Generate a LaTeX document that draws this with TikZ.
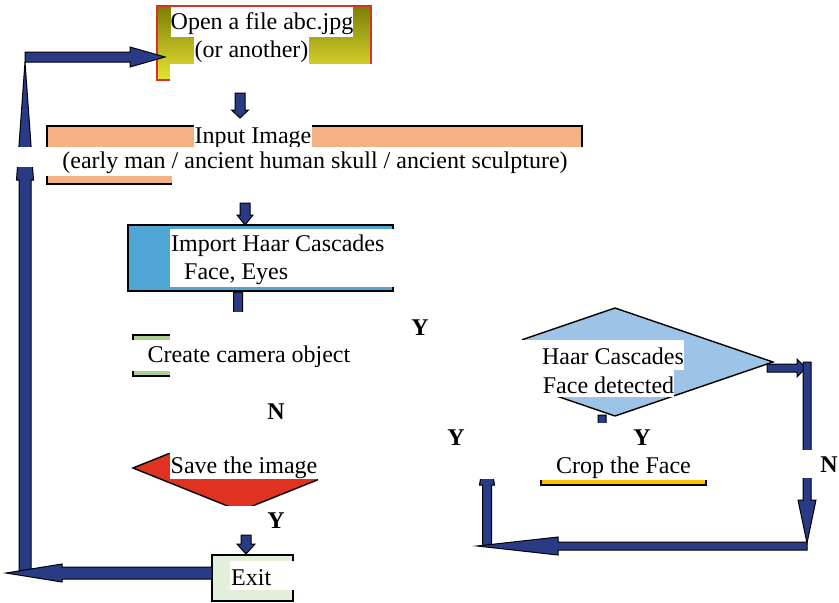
\documentclass[tikz,border=0pt]{standalone}
\usepackage{fontspec}
\setmainfont{Liberation Serif}
\usetikzlibrary{calc}

\definecolor{arrownavy}{RGB}{42,59,133}
\definecolor{openred}{RGB}{210,50,40}
\definecolor{olivetop}{RGB}{125,125,5}
\definecolor{olivebot}{RGB}{232,228,52}
\definecolor{inputsalmon}{RGB}{244,177,131}
\definecolor{importblue}{RGB}{79,166,212}
\definecolor{camgreen}{RGB}{169,208,142}
\definecolor{savered}{RGB}{224,50,32}
\definecolor{detectblue}{RGB}{157,195,230}
\definecolor{cropgold}{RGB}{255,192,0}
\definecolor{exitgreen}{RGB}{226,239,218}

\newcommand{\flowfont}{\fontsize{24}{28}\selectfont}
% block arrow: from, to, half shaft, head length, half head
\newcommand{\flowarrow}[5]{%
  \coordinate (fa-base) at ($(#2)!#4!(#1)$);
  \filldraw[blockarrow] ($(#1)!#3!90:(#2)$) -- ($(fa-base)!#3!90:(#2)$)
    -- ($(fa-base)!#5!90:(#2)$) -- (#2) -- ($(fa-base)!#5!-90:(#2)$)
    -- ($(fa-base)!#3!-90:(#2)$) -- ($(#1)!#3!-90:(#2)$) -- cycle;
}

\tikzset{
  box/.style={draw=black, line width=1.8pt, inner sep=0pt},
  decision/.style={draw=black, line width=1.4pt},
  blockarrow/.style={fill=arrownavy, draw=black, line width=1pt, line join=miter},
  plaintxt/.style={fill=white, inner sep=0pt, font=\flowfont},
  txt/.style={plaintxt, text height=20pt},
  yn/.style={inner sep=0pt, font=\flowfont\bfseries},
  mask/.style={fill=white}
}

\begin{document}
\begin{tikzpicture}[x=1pt, y=-1pt]
  \useasboundingbox (0,0) rectangle (839,603);

  % boxes
  \node[box, draw=openred, line width=1.5pt, top color=olivetop, bottom color=olivebot,
        minimum width=214pt, minimum height=74pt] (open) at (264,43) {};
  \node[box, fill=inputsalmon, minimum width=535pt, minimum height=58pt] (input) at (314.5,155) {};
  \node[box, fill=importblue, minimum width=265pt, minimum height=66pt] (import) at (260.5,258) {};
  \node[box, fill=camgreen, minimum width=247pt, minimum height=41pt] (camera) at (256.5,355.5) {};
  \node[box, fill=cropgold, minimum width=165pt, minimum height=40pt] (crop) at (623.5,465) {};
  \node[box, fill=exitgreen, minimum width=81pt, minimum height=46pt] (exit) at (252.5,578) {};

  % decisions
  \coordinate (save-w) at (133,468);
  \coordinate (save-n) at (240,425);
  \coordinate (save-e) at (347,468);
  \coordinate (save-s) at (240,511);
  \filldraw[decision, fill=savered] (save-w) -- (save-n) -- (save-e) -- (save-s) -- cycle;
  \coordinate (detect-w) at (457,362);
  \coordinate (detect-n) at (615,308);
  \coordinate (detect-e) at (773,362);
  \coordinate (detect-s) at (615,416);
  \filldraw[decision, fill=detectblue] (detect-w) -- (detect-n) -- (detect-e) -- (detect-s) -- cycle;

  % arrow ends
  \coordinate (openout) at (240,93);
  \coordinate (inputin) at (240,118);
  \coordinate (inputout) at (245,203);
  \coordinate (importin) at (245,225);
  \coordinate (importout) at (238,292);
  \coordinate (camerain) at (238,335);
  \coordinate (saveout) at (246,535);
  \coordinate (exitin) at (246,554);
  \coordinate (exitout) at (212,573);
  \coordinate (backleft) at (6,573);
  \coordinate (upstart) at (25,573);
  \coordinate (uptop) at (25,62);
  \coordinate (topstart) at (25,57);
  \coordinate (openin) at (165,57);
  \coordinate (detectout) at (767,368);
  \coordinate (rightin) at (806,368);
  \coordinate (rightstart) at (807,362);
  \coordinate (rightend) at (807,543);
  \coordinate (bottomstart) at (807,546);
  \coordinate (bottomend) at (477,546);
  \coordinate (backstart) at (487,546);
  \coordinate (backend) at (487,440);
  \coordinate (detectdown) at (602,415);
  \coordinate (cropin) at (602,450);

  \flowarrow{openout}{inputin}{5pt}{8pt}{8.5pt}
  \flowarrow{inputout}{importin}{5pt}{10pt}{8pt}
  \flowarrow{importout}{camerain}{4.5pt}{10pt}{8pt}
  \flowarrow{saveout}{exitin}{5pt}{10pt}{9pt}
  \flowarrow{upstart}{uptop}{6pt}{118pt}{8.5pt}
  \flowarrow{exitout}{backleft}{6pt}{56pt}{9pt}
  \flowarrow{topstart}{openin}{5pt}{35pt}{10pt}
  \flowarrow{detectout}{rightin}{4pt}{9pt}{9pt}
  \flowarrow{rightstart}{rightend}{4pt}{43pt}{9pt}
  \flowarrow{backstart}{backend}{4.5pt}{45pt}{7.5pt}
  \flowarrow{bottomstart}{bottomend}{4pt}{81pt}{9pt}
  \flowarrow{detectdown}{cropin}{4pt}{10pt}{8pt}

  % white cut-outs
  \fill[mask] (170,64) rectangle (376,83);
  \fill[mask] (15,147) rectangle (41,167);
  \fill[mask] (172,176) rectangle (590,188);
  \fill[mask] (170,229) rectangle (396,287);
  \fill[mask] (200,312) rectangle (280,334);
  \fill[mask] (170,331) rectangle (410,381);
  \fill[mask] (120,421) rectangle (365,453);
  \fill[mask] (318,453) rectangle (365,482);
  \fill[mask] (215,506) rectangle (265,516);
  \fill[mask] (230,561) rectangle (294,590);
  \fill[mask] (440,300) rectangle (522,340);
  \fill[mask] (440,340) rectangle (542,370);
  \fill[mask] (440,370) rectangle (543,397);
  \fill[mask] (440,397) rectangle (555,425);
  \fill[mask] (535,423) rectangle (712,480);
  \fill[mask] (470,420) rectangle (500,479);
  \fill[mask] (795,450) rectangle (839,478);

  % texts
  \node[txt, minimum width=182pt, minimum height=30pt] (opentxt) at (262,22) {Open a file abc.jpg};
  \node[txt, minimum width=115pt, minimum height=27pt] (opentxtb) at (251.5,50.5) {(or another)};
  \node[txt, minimum width=118pt, minimum height=22pt] (inputtxt) at (253,136) {Input Image};
  \node[txt, minimum width=550pt, minimum height=29pt] (inputtxtb) at (315,161.5)
    {(early man / ancient human skull / ancient sculpture)};
  \node[plaintxt, anchor=west, align=left] (importtxt) at (171,260)
    {Import Haar Cascades\\\hspace*{13pt}Face, Eyes};
  \node[txt, minimum width=234pt, minimum height=31pt] (cameratxt) at (249,355) {Create camera object};
  \node[txt, minimum width=148pt, minimum height=26pt] (savetxt) at (244,466) {Save the image};
  \node[txt, anchor=west] (exittxt) at (231,576) {Exit};
  \node[txt, minimum width=142pt, minimum height=30pt] (detecttxt) at (613,355) {Haar Cascades};
  \node[txt, minimum width=131pt, minimum height=27pt] (detecttxtb) at (608.5,383.5) {Face detected};
  \node[txt] (croptxt) at (623.5,466) {Crop the Face};

  % yes / no
  \node[yn] (y1) at (420,328) {Y};
  \node[yn] (n1) at (276,412) {N};
  \node[yn] (y2) at (456,438) {Y};
  \node[yn] (y3) at (642,438) {Y};
  \node[yn] (n2) at (829,465) {N};
  \node[yn] (y4) at (276,521) {Y};
\end{tikzpicture}
\end{document}
